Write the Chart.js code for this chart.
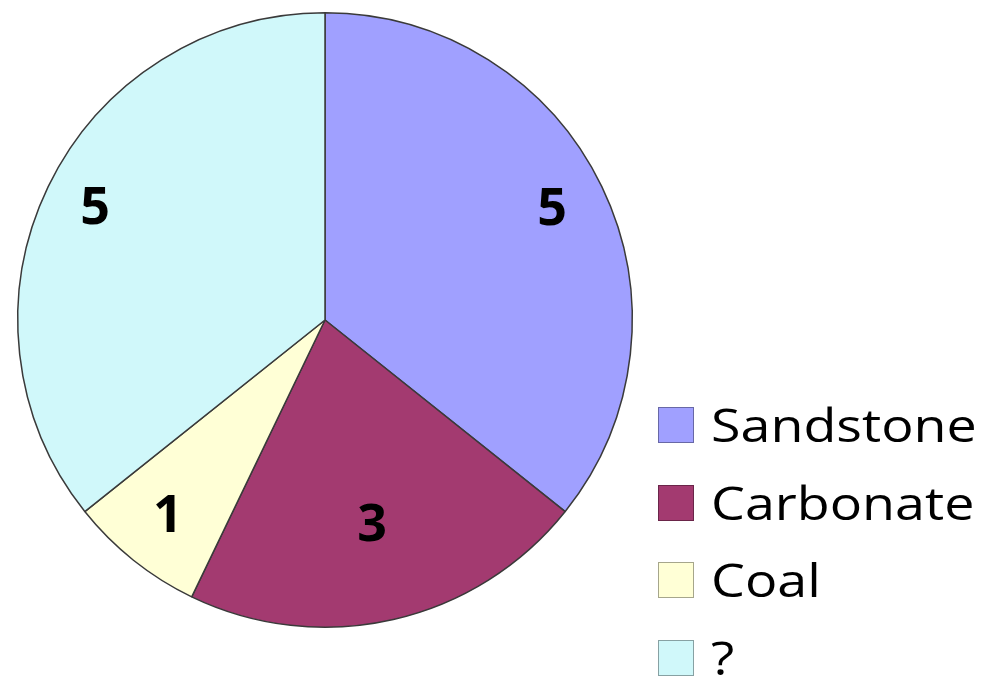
<!DOCTYPE html>
<html lang="en">

<head>
    <meta charset="UTF-8">
    <title>Rock types</title>
    <script src="https://cdn.jsdelivr.net/npm/chart.js"></script>
    <style>
        body { margin: 0; background: #fff; }
        #wrap { position: relative; width: 993px; height: 681px; }
        #pie_box { position: absolute; left: 0; top: 0; width: 650px; height: 681px; }
        #legend { position: absolute; left: 658px; top: 400px; font-family: "Open Sans", sans-serif; }
        .item { height: 77.5px; display: flex; align-items: flex-start; }
        .box { width: 36px; height: 36px; margin-top: 7px; box-sizing: border-box; border: 1px solid rgba(0,0,0,0.35); }
        .txt { font-size: 46px; line-height: 48px; margin-left: 17px; color: #000; transform: scaleX(1.17); transform-origin: left; }
    </style>
</head>

<body>
    <div id="wrap">
        <div id="pie_box"><canvas id="chart_pie"></canvas></div>
        <div id="legend"></div>
    </div>

    <script>
        var categories = ['Sandstone', 'Carbonate', 'Coal', '?'];
        var counts = [5, 3, 1, 5];
        var colors = ['#a0a0ff', '#a33a70', '#ffffd6', '#d0f8fa'];

        // numbers inside the slices
        var sliceLabels = {
            id: 'sliceLabels',
            afterDatasetsDraw: function (chart, args, opts) {
                var ctx = chart.ctx;
                var arcs = chart.getDatasetMeta(0).data;
                ctx.save();
                ctx.font = 'bold 52px "Open Sans", sans-serif';
                ctx.fillStyle = '#000';
                ctx.textAlign = 'center';
                ctx.textBaseline = 'middle';
                arcs.forEach(function (arc, i) {
                    var p = arc.getProps(['x', 'y', 'startAngle', 'endAngle', 'outerRadius']);
                    var mid = (p.startAngle + p.endAngle) / 2;
                    var r = p.outerRadius * opts.radius[i];
                    ctx.fillText(String(counts[i]), p.x + Math.cos(mid) * r, p.y + Math.sin(mid) * r);
                });
                ctx.restore();
            }
        };

        var ctx_pie = document.getElementById('chart_pie').getContext('2d');
        var chart_pie = new Chart(ctx_pie, {
            type: 'pie',
            data: {
                labels: categories,
                datasets: [{
                    data: counts,
                    backgroundColor: colors,
                    borderColor: '#3a3a3a',
                    borderWidth: 1.5
                }]
            },
            options: {
                responsive: true,
                maintainAspectRatio: false,
                animation: false,
                layout: { padding: { top: 12, bottom: 53, left: 17, right: 17 } },
                plugins: {
                    legend: { display: false },
                    tooltip: { enabled: false },
                    sliceLabels: { radius: [0.82, 0.69, 0.82, 0.83] }
                }
            },
            plugins: [sliceLabels]
        });

        // legend on the right
        var legend = document.getElementById('legend');
        categories.forEach(function (name, i) {
            var row = document.createElement('div');
            row.className = 'item';
            row.innerHTML = '<div class="box" style="background:' + colors[i] + '"></div><div class="txt">' + name + '</div>';
            legend.appendChild(row);
        });
    </script>
</body>

</html>
